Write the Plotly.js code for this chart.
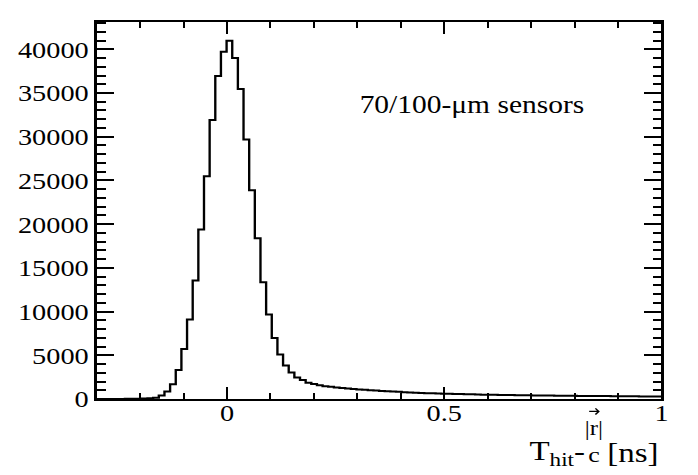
<!DOCTYPE html>
<html>
<head>
<meta charset="utf-8">
<script src="https://cdn.plot.ly/plotly-3.0.1.min.js"></script>
<style>
  html, body { margin: 0; padding: 0; background: #fff; overflow: hidden; }
  #wrap { width: 698px; height: 475px; overflow: hidden; }
  #plot { width: 592px; height: 475px; transform: scaleX(1.1791); transform-origin: 0 0; }
</style>
</head>
<body>
<div id="wrap"><div id="plot"></div></div>
<script>
// Histogram binning (ROOT TH1: 100 bins from -0.3 to 1.0 ns)
const binLow = -0.3;
const binWidth = 0.013;

// Bin contents
const counts = [
  0, 0, 0, 0, 10, 15, 20, 30, 50, 80,
  150, 400, 850, 1700, 3320, 5730, 9090, 13560, 19400, 25480,
  31900, 36950, 39720, 40980, 39000, 35450, 29680, 23870, 18400, 13360,
  9660, 6990, 5080, 3820, 3040, 2470, 2170, 1860, 1720, 1570,
  1470, 1390, 1320, 1260, 1200, 1150, 1100, 1050, 1000, 960,
  920, 880, 850, 820, 780, 750, 720, 690, 670, 650,
  630, 610, 590, 575, 560, 545, 530, 515, 500, 490,
  480, 470, 460, 450, 440, 430, 420, 410, 400, 395,
  390, 380, 375, 370, 360, 355, 350, 345, 340, 335,
  330, 325, 320, 315, 310, 305, 300, 295, 290, 280
];

const xTickVals = [0, 0.5, 1];
const xTickText = ["0", "0.5", "1"];
const yTickVals = [0, 5000, 10000, 15000, 20000, 25000, 30000, 35000, 40000];
const yTickText = ["0", "5000", "10000", "15000", "20000", "25000", "30000", "35000", "40000"];

const legendText = "70/100-\u03BCm sensors";
const titleMain = "T<sub>hit</sub>-";
const titleNum = "|r|";
const titleDen = "c";
const titleUnit = "[ns]";

// Build step outline from bin edges
const edgesX = [];
const stepY = [];
for (let i = 0; i <= counts.length; i++) {
  edgesX.push(binLow + i * binWidth);
  stepY.push(i < counts.length ? counts[i] : counts[counts.length - 1]);
}

const font = "'Liberation Serif', 'Times New Roman', serif";

const trace = {
  type: "scatter",
  mode: "lines",
  x: edgesX,
  y: stepY,
  line: { shape: "hv", color: "#000", width: 2 },
  hoverinfo: "skip",
  showlegend: false
};

function ann(text, x, y, xanchor, size) {
  return { text: text, xref: "paper", yref: "paper", x: x, y: y,
    xanchor: xanchor, yanchor: "middle", showarrow: false,
    font: { family: font, size: size, color: "#000" } };
}

const layout = {
  width: 592,
  height: 475,
  margin: { l: 82, r: 30.5, t: 22, b: 76 },
  paper_bgcolor: "#fff",
  plot_bgcolor: "#fff",
  font: { family: font, color: "#000", size: 24 },
  showlegend: false,
  xaxis: {
    range: [-0.3, 1.0],
    tickmode: "array",
    tickvals: xTickVals,
    ticktext: xTickText,
    ticks: "inside",
    ticklen: 12,
    tickwidth: 1.7,
    tickcolor: "#000",
    ticklabelstandoff: -9,
    minor: { tickmode: "linear", tick0: 0, dtick: 0.1, ticks: "inside", ticklen: 6, tickwidth: 1.7, tickcolor: "#000" },
    showline: true,
    linecolor: "#000",
    linewidth: 2,
    mirror: "allticks",
    showgrid: false,
    zeroline: false,
    tickfont: { family: font, size: 24, color: "#000" },
    fixedrange: true
  },
  yaxis: {
    range: [0, 43120],
    tickmode: "array",
    tickvals: yTickVals,
    ticktext: yTickText,
    ticks: "inside",
    ticklen: 14.5,
    tickwidth: 2,
    tickcolor: "#000",
    minor: { tickmode: "linear", tick0: 0, dtick: 1000, ticks: "inside", ticklen: 7.5, tickwidth: 2, tickcolor: "#000" },
    showline: true,
    linecolor: "#000",
    linewidth: 2,
    mirror: "allticks",
    showgrid: false,
    zeroline: false,
    tickfont: { family: font, size: 24, color: "#000" },
    fixedrange: true
  },
  shapes: [
    // small vector arrow over the r in the axis title
    { type: "path", xref: "paper", yref: "paper",
      path: "M 0.872 -0.033 L 0.889 -0.033 M 0.883 -0.025 L 0.889 -0.033 L 0.883 -0.041",
      line: { color: "#000", width: 1.3 } }
  ],
  annotations: [
    ann(legendText, 0.664, 0.78, "center", 25),
    ann(titleMain, 0.762, -0.142, "left", 28),
    ann(titleNum, 0.88, -0.077, "center", 21),
    ann(titleDen, 0.88, -0.147, "center", 22),
    ann(titleUnit, 1.0, -0.142, "right", 28)
  ]
};

Plotly.newPlot("plot", [trace], layout, { displayModeBar: false, staticPlot: true });
</script>
</body>
</html>
